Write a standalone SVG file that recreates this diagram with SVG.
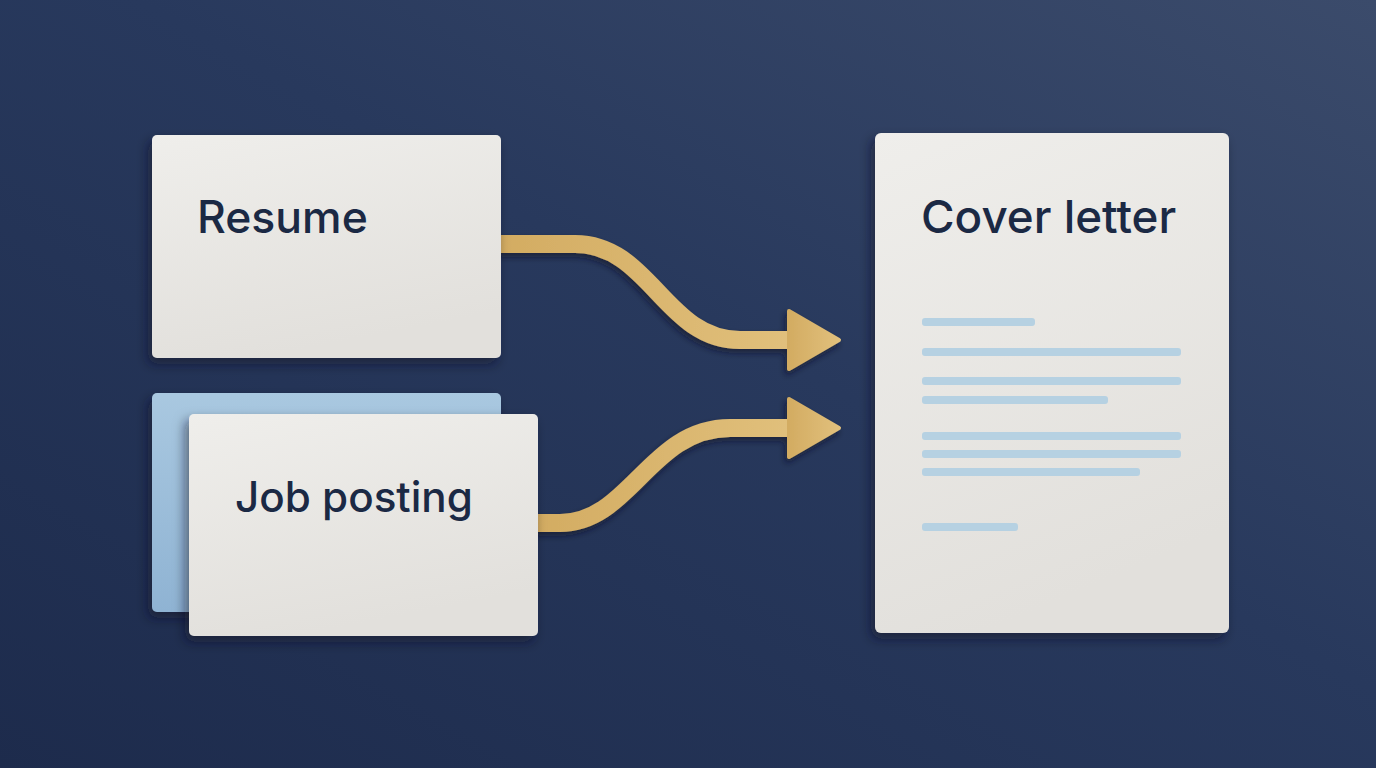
<svg xmlns="http://www.w3.org/2000/svg" width="1376" height="768" viewBox="0 0 1376 768">
  <defs>
    <linearGradient id="bg" x1="0" y1="1" x2="1" y2="0">
      <stop offset="0" stop-color="#1d2b4c"/>
      <stop offset="0.55" stop-color="#28395d"/>
      <stop offset="1" stop-color="#3b4b6b"/>
    </linearGradient>
    <linearGradient id="paper" x1="0" y1="0" x2="0.3" y2="1">
      <stop offset="0" stop-color="#efeeeb"/>
      <stop offset="1" stop-color="#e2e0dc"/>
    </linearGradient>
    <linearGradient id="blueCard" x1="0" y1="0" x2="0" y2="1">
      <stop offset="0" stop-color="#a9c8e0"/>
      <stop offset="1" stop-color="#8fb3d3"/>
    </linearGradient>
    <linearGradient id="gold" x1="0" y1="0" x2="1" y2="0">
      <stop offset="0" stop-color="#d3ac62"/>
      <stop offset="1" stop-color="#e1c07c"/>
    </linearGradient>
    <filter id="cardShadow" x="-20%" y="-20%" width="140%" height="140%">
      <feDropShadow dx="-4" dy="6" stdDeviation="6" flood-color="#0b1428" flood-opacity="0.55"/>
    </filter>
    <filter id="arrowShadow" x="-10%" y="-20%" width="120%" height="140%">
      <feDropShadow dx="-2" dy="4" stdDeviation="3" flood-color="#0b1428" flood-opacity="0.6"/>
    </filter>
    <style>
      .card { fill: url(#paper); filter: url(#cardShadow); }
      .label { font-family: Inter, "Liberation Sans", sans-serif; font-weight: 500; font-size: 44px; fill: #1b2944; }
      .shaft { fill: none; stroke: url(#gold); stroke-width: 18; }
      .head { fill: url(#gold); stroke: url(#gold); stroke-width: 4; stroke-linejoin: round; }
      .line { fill: #b6d1e2; }
    </style>
  </defs>

  <rect x="0" y="0" width="1376" height="768" fill="url(#bg)"/>

  <g id="connectors" filter="url(#arrowShadow)">
    <g id="arrow-resume">
      <path class="shaft" d="M 500 244 L 575 244 C 650 244 665 340 740 340 L 795 340"/>
      <polygon class="head" points="789,311 839,340 789,369"/>
    </g>
    <g id="arrow-job">
      <path class="shaft" d="M 537 523 L 560 523 C 630 523 650 428 730 428 L 795 428"/>
      <polygon class="head" points="789,399 839,428 789,457"/>
    </g>
  </g>

  <g id="node-resume">
    <rect class="card" x="152" y="135" width="349" height="223" rx="5"/>
    <text class="label" x="197" y="233" style="font-size:44.5px">Resume</text>
  </g>

  <g id="node-job-posting">
    <rect x="152" y="393" width="349" height="219" rx="5" fill="url(#blueCard)" filter="url(#cardShadow)"/>
    <rect class="card" x="189" y="414" width="349" height="222" rx="5"/>
    <text class="label" x="235" y="512" style="font-size:42.2px">Job posting</text>
  </g>

  <g id="node-cover-letter">
    <rect class="card" x="875" y="133" width="354" height="500" rx="6"/>
    <text class="label" x="921" y="233" style="font-size:45.8px">Cover letter</text>
    <rect class="line" x="922" y="318" width="113" height="8" rx="3"/>
    <rect class="line" x="922" y="348" width="259" height="8" rx="3"/>
    <rect class="line" x="922" y="377" width="259" height="8" rx="3"/>
    <rect class="line" x="922" y="396" width="186" height="8" rx="3"/>
    <rect class="line" x="922" y="432" width="259" height="8" rx="3"/>
    <rect class="line" x="922" y="450" width="259" height="8" rx="3"/>
    <rect class="line" x="922" y="468" width="218" height="8" rx="3"/>
    <rect class="line" x="922" y="523" width="96" height="8" rx="3"/>
  </g>
</svg>
